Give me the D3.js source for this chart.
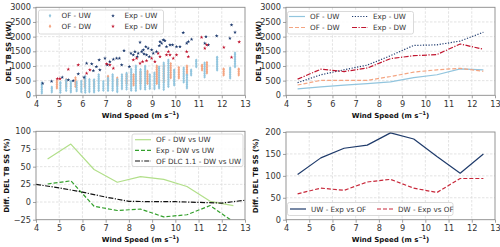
<!DOCTYPE html>
<html><head><meta charset="utf-8">
<script src="https://cdn.jsdelivr.net/npm/d3@7"></script>
<style>body{margin:0;background:#fff}svg{display:block}</style>
</head><body>
<svg id="c" width="500" height="247"></svg>
<script>
// ---------- DATA ----------
const windTicks = [4,5,6,7,8,9,10,11,12,13];
const delTicks = [0,500,1000,1500,2000,2500,3000];
const diffTicksL = [-25,0,25,50,75,100];
const diffTicksR = [0,50,100,150,200];

// OF scatter: [wind speed, [DEL values]]
const ofUW = [
 [4.25,[80,140,200,260,320,380,420]],
 [4.68,[110,170,230,280]],
 [5.05,[100,160,220,280,340,400,440]],
 [5.3,[160,220,280,340,400,460,520]],
 [5.5,[110,170,230,290,350,410,470]],
 [5.75,[150,210,270,330,390,450]],
 [5.95,[120,180,240,300,360,420,480]],
 [6.12,[100,160,220,280,340,400,460,520,580,640]],
 [6.3,[120,180,240,300,360,420,480,540]],
 [6.5,[110,170,230,290,350,410,470,530]],
 [6.7,[160,220,280,340,400,460,520,580,640,700]],
 [6.9,[170,230,290,350,410,470]],
 [7.1,[160,220,280,340,400,460,520,580]],
 [7.3,[170,230,290,350,410,470,530,590,650,700]],
 [7.5,[120,180,240,300,360,420,480,540]],
 [7.7,[220,280,340,400,460,520,580,640,700]],
 [7.9,[210,270,330,390,450,510,570,630,690,750]],
 [8.1,[170,230,290,350,410,470,530,590,650,710,770,830,890]],
 [8.3,[160,220,280,340,400,460,520,580,640,700,760,820,880,940,1000]],
 [8.5,[220,280,340,400,460,520,580,640,700,760,820,880]],
 [8.7,[210,270,330,390,450,510,570,630,690,750,810,870,930,990]],
 [8.9,[230,290,350,410,470,530,590,650,700]],
 [9.1,[220,280,340,400,460,520,580,640,700,760]],
 [9.3,[250,310,370,430,490,550,610,670,730,790,850,910,970]],
 [9.5,[200,260,320,380,440,500,560,620,680,740,800,860,920,980,1040,1100]],
 [9.7,[300,360,420,480,540,600,660,720,780,840,900,960,1020,1080,1140,1200]],
 [9.95,[350,410,470,530,590,650,710,770,830,860]],
 [10.36,[450,510,570,630,690,750,810,870,930]],
 [10.5,[250,310,370,430,490,550,610,670,690]],
 [10.68,[690,750,810,860]],
 [10.9,[970,1030,1090,1150,1200]],
 [11.26,[620,680,740,800,860,920,980,1040,1100]],
 [11.8,[860,920,980,1040,1100,1160,1220,1280,1300]],
 [12.36,[590,650,710,770,830,890,930]],
 [12.57,[970,1030,1090,1150,1210,1270,1330,1390,1440]]
];
const ofDW = [
 [4.9,[250,310,370,430,490]],
 [5.3,[300,360,420,480,540]],
 [5.7,[300,360,420,480,540,600]],
 [6.1,[300,360,420,480,540]],
 [6.5,[300,360,420,480]],
 [7.1,[350,410,470,530,590,650]],
 [7.5,[350,410,470,530,590]],
 [7.9,[400,460,520,580,640,700]],
 [8.2,[350,410,470,530,590,650,700]],
 [8.5,[400,460,520,580,640,700,760,800]],
 [8.8,[400,460,520,580,640,700,760,820]],
 [9.2,[400,460,520,580,640,700,760,820,880,940,1000]],
 [9.5,[450,510,570,630,690,750,810,870,930,1000]],
 [9.8,[600,660,720,780,840,900,960,1020,1080]],
 [10.15,[590,650,710,770,830,890,950]],
 [10.5,[700,760,820,880,940,1000]],
 [11.15,[860,920,980,1030]],
 [11.36,[760,820,880,940,1000,1060,1120]],
 [12.08,[690,750,810,870,900]],
 [12.73,[690,750,810,870,900]]
];
// Experimental scatter points
const expUWws = [4.29,4.67,5.13,5.39,5.6,5.82,6.07,6.18,6.4,6.47,6.6,6.75,6.72,6.97,7.07,7.18,7.33,7.47,7.59,7.69,7.79,8.02,8.09,8.19,8.26,8.36,8.4,8.48,8.55,8.62,8.65,8.73,8.76,8.83,8.88,8.98,9.05,9.19,9.31,9.34,9.41,9.48,9.55,9.62,9.77,9.88,10.05,10.2,10.34,10.49,10.56,10.7,11.27,11.32,11.42,11.78,12.35,12.42,12.57];
const expUWdel = [409,477,614,523,500,727,614,1090,1068,841,977,864,1205,1261,1034,1148,1227,1261,1261,1034,1523,977,1432,1375,1489,1318,1432,1807,1489,1545,1409,1659,1375,1602,1318,1545,1432,1489,1693,1830,1773,1886,1864,1659,1716,1716,1659,1659,2136,1773,1830,1909,1773,2000,1716,2023,1943,2398,2148];
const expDWws = [4.92,5.03,5.39,5.82,6.18,6.32,7.04,7.18,7.33,8.19,8.33,8.48,8.59,8.76,8.98,9.12,9.26,9.34,9.62,9.7,9.77,9.91,10.05,10.49,10.56,11.13,11.27,11.35,12.09,12.42,12.75];
const expDWdel = [568,568,886,1034,750,864,1068,1034,920,1205,1261,1090,1148,1182,1261,1148,1432,1318,1375,1489,1375,1261,1375,1489,1318,1977,1602,1716,1636,1295,1818];

// Binned means
const binWs = [4.5,5.5,6.5,7.5,8.5,9.5,10.5,11.5,12.5];
const binOFUW = [220,290,350,400,460,600,700,900,870];
const binOFDW = [350,510,510,510,640,790,870,920,820];
const binExpUW = [430,700,870,1030,1350,1700,1720,1850,2150];
const binExpDW = [550,890,810,930,1250,1350,1390,1750,1570];

// Differences DW vs UW (%)
const diffOF = [61,82,46,28,36,32,22,1,-5];
const diffExp = [25.5,30,-6,-12,-10,-21,-18,-5,-28];
const dlcWs = [4,5,6,7,8,9,10,11,12,13];
const diffDLC = [25,20,14,7,1,0.5,0.5,-0.5,-1.5,2.5];

// Differences Exp vs OF (%)
const diffUW = [103,141,163,170,198,184,144,106,150];
const diffDW = [59,72,67,86,92,72,62,94,94];

// ---------- DRAW ----------
const C = {ofuw:"#92c5de", ofdw:"#f4a582", expuw:"#1d3a6e", expdw:"#c0152f",
           lg:"#b2df8a", dg:"#33a02c", navy:"#1f3b6b", red:"#c8283a"};
const svg = d3.select("#c");
const FONT = "DejaVu Sans, sans-serif";
const TICKF = 8.2, LEGF = 7.2, LABF = 7;

const panels = [
 {l:36,r:245,t:7.3,b:95.3,ydom:[0,3000],yt:delTicks,ylab:"DEL TB SS (kW)",ylx:8.5},
 {l:286,r:495,t:7.3,b:95.3,ydom:[0,3000],yt:delTicks,ylab:"DEL TB SS (kW)",ylx:258.5},
 {l:36,r:245,t:131.3,b:219.7,ydom:[-25,100],yt:diffTicksL,ylab:"Diff. DEL TB SS (%)",ylx:7},
 {l:286,r:495,t:132,b:219.7,ydom:[0,200],yt:diffTicksR,ylab:"Diff. DEL TB SS (%)",ylx:256}
];

panels.forEach((p,i)=>{
  p.x = d3.scaleLinear().domain([4,13]).range([p.l,p.r]);
  p.y = d3.scaleLinear().domain(p.ydom).range([p.b,p.t]);
  const g = svg.append("g");
  p.g = g;
  g.append("g").selectAll("line").data(windTicks.slice(1,-1)).join("line")
    .attr("x1",d=>p.x(d)).attr("x2",d=>p.x(d)).attr("y1",p.t).attr("y2",p.b)
    .attr("stroke","#dcdcdc").attr("stroke-width",0.8).attr("stroke-dasharray","2.5,1.5");
  g.append("g").selectAll("line").data(p.yt.slice(1,-1)).join("line")
    .attr("y1",d=>p.y(d)).attr("y2",d=>p.y(d)).attr("x1",p.l).attr("x2",p.r)
    .attr("stroke","#dcdcdc").attr("stroke-width",0.8).attr("stroke-dasharray","2.5,1.5");
  svg.append("clipPath").attr("id","clip"+i).append("rect")
    .attr("x",p.l).attr("y",p.t).attr("width",p.r-p.l).attr("height",p.b-p.t);
  p.pg = g.append("g").attr("clip-path",`url(#clip${i})`);
  const ax = g.append("g").attr("transform",`translate(0,${p.b})`)
    .call(d3.axisBottom(p.x).tickValues(windTicks).tickSize(3).tickPadding(2.5).tickFormat(d3.format("d")));
  const ay = g.append("g").attr("transform",`translate(${p.l},0)`)
    .call(d3.axisLeft(p.y).tickValues(p.yt).tickSize(3).tickPadding(2).tickFormat(d3.format("d")));
  [ax,ay].forEach(a=>{
    a.select(".domain").remove();
    a.selectAll(".tick line").attr("stroke","#888").attr("stroke-width",0.8);
    a.selectAll("text").attr("font-family",FONT).attr("font-size",TICKF).attr("fill","#333");
  });
  g.append("rect").attr("x",p.l).attr("y",p.t).attr("width",p.r-p.l).attr("height",p.b-p.t)
    .attr("fill","none").attr("stroke","#8a8a8a").attr("stroke-width",0.9);
  const xl = g.append("text").attr("x",(p.l+p.r)/2).attr("y",p.b+22.5).attr("text-anchor","middle")
    .attr("font-family",FONT).attr("font-size",LABF).attr("font-weight","bold").attr("fill","#111");
  xl.append("tspan").text("Wind Speed (m s");
  xl.append("tspan").text("−1").attr("font-size",5).attr("dy",-3);
  xl.append("tspan").text(")").attr("dy",3);
  g.append("text").attr("transform",`translate(${p.ylx},${(p.t+p.b)/2}) rotate(-90)`)
    .attr("text-anchor","middle").attr("dy","0.35em")
    .attr("font-family",FONT).attr("font-size",LABF).attr("font-weight","bold").attr("fill","#111")
    .text(p.ylab);
});

// Panel 0 scatter
const diamond = (cx,cy,w,h)=>`M${cx},${cy-h/2}L${cx+w/2},${cy}L${cx},${cy+h/2}L${cx-w/2},${cy}Z`;
const star = d3.symbol().type(d3.symbolStar).size(4.5);
{
  const p = panels[0];
  const flat = (arr)=>arr.flatMap(([w,vs])=>vs.map(v=>[w,v]));
  p.pg.append("g").selectAll("path").data(flat(ofDW)).join("path")
    .attr("d",d=>diamond(p.x(d[0]),p.y(d[1]),2.6,3.4)).attr("fill",C.ofdw);
  p.pg.append("g").selectAll("path").data(flat(ofUW)).join("path")
    .attr("d",d=>diamond(p.x(d[0]),p.y(d[1]),2.6,3.4)).attr("fill",C.ofuw);
  p.pg.append("g").selectAll("path").data(d3.zip(expUWws,expUWdel)).join("path")
    .attr("transform",d=>`translate(${p.x(d[0])},${p.y(d[1])})`).attr("d",star).attr("fill",C.expuw);
  p.pg.append("g").selectAll("path").data(d3.zip(expDWws,expDWdel)).join("path")
    .attr("transform",d=>`translate(${p.x(d[0])},${p.y(d[1])})`).attr("d",star).attr("fill",C.expdw);
  const lg = p.g.append("g");
  lg.append("rect").attr("x",38.5).attr("y",10).attr("width",125).attr("height",24).attr("rx",2)
    .attr("fill","#fff").attr("fill-opacity",0.85).attr("stroke","#d0d0d0").attr("stroke-width",0.8);
  const items = [["OF - UW",C.ofuw,50,15.8,"d"],["OF - DW",C.ofdw,50,26.3,"d"],
                 ["Exp - UW",C.expuw,113,15.8,"s"],["Exp - DW",C.expdw,113,26.3,"s"]];
  items.forEach(([t,c,x,y,k])=>{
    if(k==="d") lg.append("path").attr("d",diamond(x,y,2.6,4)).attr("fill",c);
    else lg.append("path").attr("transform",`translate(${x},${y})`).attr("d",star).attr("fill",c);
    lg.append("text").attr("x",x+11.5).attr("y",y).attr("dy","0.35em").attr("font-family",FONT)
      .attr("font-size",LEGF).attr("fill","#333").text(t);
  });
}

function legendBox(g,x,y,w,h){
  g.append("rect").attr("x",x).attr("y",y).attr("width",w).attr("height",h).attr("rx",2)
    .attr("fill","#fff").attr("fill-opacity",0.85).attr("stroke","#d0d0d0").attr("stroke-width",0.8);
}
function legendLine(g,x,y,t,c,dash,lw){
  g.append("line").attr("x1",x).attr("x2",x+16).attr("y1",y).attr("y2",y)
    .attr("stroke",c).attr("stroke-width",lw||1.2).attr("stroke-dasharray",dash);
  g.append("text").attr("x",x+21).attr("y",y).attr("dy","0.35em").attr("font-family",FONT)
    .attr("font-size",LEGF).attr("fill","#333").text(t);
}
function drawLine(p,xs,ys,c,dash,lw){
  const line = d3.line().x(d=>p.x(d[0])).y(d=>p.y(d[1]));
  p.pg.append("path").datum(d3.zip(xs,ys)).attr("d",line).attr("fill","none")
    .attr("stroke",c).attr("stroke-width",lw||1.2).attr("stroke-dasharray",dash)
    .attr("stroke-linejoin","round");
}

{
  const p = panels[1];
  drawLine(p,binWs,binOFUW,C.ofuw,null);
  drawLine(p,binWs,binOFDW,C.ofdw,"4,2");
  drawLine(p,binWs,binExpUW,C.expuw,"1.2,1.6");
  drawLine(p,binWs,binExpDW,C.expdw,"5,1.5,1.2,1.5");
  const g = p.g.append("g");
  legendBox(g,287.5,11.5,126,22.5);
  legendLine(g,289,16.5,"OF - UW",C.ofuw,null);
  legendLine(g,289,27.5,"OF - DW",C.ofdw,"4,2");
  legendLine(g,352,16.5,"Exp - UW",C.expuw,"1.2,1.6");
  legendLine(g,352,27.5,"Exp - DW",C.expdw,"5,1.5,1.2,1.5");
}
{
  const p = panels[2];
  drawLine(p,binWs,diffOF,C.lg,null);
  drawLine(p,binWs,diffExp,C.dg,"4,2");
  drawLine(p,dlcWs,diffDLC,"#111","5,1.5,1.2,1.5");
  const g = p.g.append("g");
  legendBox(g,132,134,111,32.5);
  legendLine(g,135,139.7,"OF - DW vs UW",C.lg,null);
  legendLine(g,135,150.3,"Exp - DW vs UW",C.dg,"4,2");
  legendLine(g,135,161,"OF DLC 1.1 - DW vs UW","#111","5,1.5,1.2,1.5");
}
{
  const p = panels[3];
  drawLine(p,binWs,diffUW,C.navy,null);
  drawLine(p,binWs,diffDW,C.red,"4,2");
  const g = p.g.append("g");
  legendBox(g,287.5,202.5,165.5,13);
  legendLine(g,290,209,"UW - Exp vs OF",C.navy,null);
  legendLine(g,377,209,"DW - Exp vs OF",C.red,"4,2");
}
</script>
</body></html>
